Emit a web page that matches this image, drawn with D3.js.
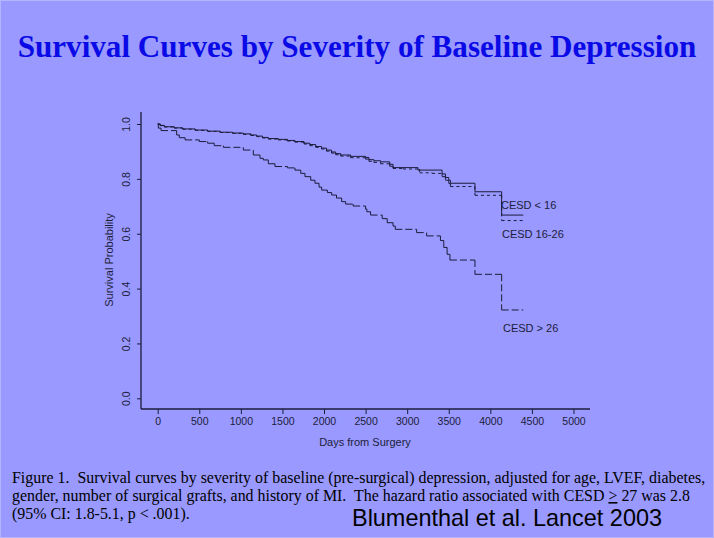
<!DOCTYPE html>
<html>
<head>
<meta charset="utf-8">
<script src="https://cdn.jsdelivr.net/npm/d3@7"></script>
<style>
html,body{margin:0;padding:0;background:#9999ff;}
svg{display:block;}
</style>
</head>
<body>
<svg id="c" width="714" height="538"></svg>
<script>
// ---- data ----
const xTicks = [0, 500, 1000, 1500, 2000, 2500, 3000, 3500, 4000, 4500, 5000];
const yTicks = [0.0, 0.2, 0.4, 0.6, 0.8, 1.0];
const seriesNames = ["CESD < 16", "CESD 16-26", "CESD > 26"];
const endDay = 4396;

const lowDays = [0,30,80,200,300,450,600,750,900,1030,1120,1190,1260,1330,1450,1560,1650,1760,1830,1900,1970,2030,2090,2140,2200,2320,2500,2540,2600,2680,2790,2830,3130,3420,3460,3500,3520,3815,4136];
const lowSurv = [1.0,0.995,0.990,0.986,0.982,0.978,0.974,0.970,0.967,0.964,0.960,0.956,0.951,0.947,0.944,0.940,0.936,0.930,0.925,0.918,0.912,0.905,0.898,0.892,0.887,0.882,0.878,0.870,0.866,0.862,0.853,0.841,0.832,0.818,0.805,0.795,0.784,0.753,0.668];

const midDays = [0,30,80,200,300,450,600,750,900,1030,1120,1190,1260,1330,1450,1560,1650,1760,1830,1900,1970,2030,2090,2140,2200,2320,2500,2540,2600,2680,2790,2830,2950,3150,3300,3420,3460,3500,3520,3815,4136];
const midSurv = [1.0,0.994,0.989,0.985,0.981,0.977,0.973,0.969,0.966,0.962,0.958,0.954,0.949,0.945,0.942,0.938,0.934,0.927,0.921,0.915,0.909,0.901,0.894,0.888,0.883,0.877,0.872,0.864,0.860,0.855,0.846,0.838,0.836,0.822,0.820,0.808,0.795,0.783,0.772,0.740,0.648];

const highDays = [0,8,40,228,260,330,500,600,680,790,1030,1150,1230,1270,1330,1410,1560,1650,1720,1771,1840,1891,1940,1972,2040,2092,2150,2212,2260,2350,2500,2515,2560,2700,2760,2830,2857,3114,3234,3400,3440,3480,3514,3815,4136];
const highSurv = [1.0,0.985,0.976,0.960,0.950,0.942,0.936,0.930,0.921,0.915,0.905,0.887,0.875,0.869,0.855,0.845,0.840,0.832,0.820,0.808,0.795,0.784,0.770,0.759,0.750,0.741,0.730,0.717,0.708,0.701,0.690,0.680,0.668,0.655,0.640,0.628,0.616,0.604,0.592,0.575,0.550,0.525,0.504,0.452,0.322];

// ---- drawing ----
const svg = d3.select("#c");
const ink = "#1c1c3c";

// slide border
svg.append("rect").attr("x",0.5).attr("y",0.5).attr("width",713).attr("height",537)
  .attr("fill","#9999ff").attr("stroke","#b4b4ff").attr("stroke-width",1);

// title
const title = svg.append("text").attr("x",357).attr("y",57).attr("text-anchor","middle")
  .attr("font-family","'Liberation Serif','Times New Roman',serif").attr("font-weight","bold")
  .attr("font-size",29).attr("fill","#0a0ae6")
  .text("Survival Curves by Severity of Baseline Depression");
{ const w = title.node().getComputedTextLength(); title.attr("font-size", 29*679/w); }

const x = d3.scaleLinear().domain([0,5000]).range([157.7,573.5]);
const y = d3.scaleLinear().domain([0,1]).range([398.3,124]);
const axX0 = 141, axY0 = 409;

const font = "'Liberation Sans',Arial,sans-serif";

// x axis
const gx = svg.append("g").attr("transform",`translate(0,${axY0})`)
  .call(d3.axisBottom(x).tickValues(xTicks).tickSize(5).tickPadding(4).tickFormat(d3.format("d")));
gx.select(".domain").remove();
gx.append("line").attr("x1",axX0).attr("x2",590).attr("stroke",ink).attr("stroke-width",1.3);
gx.selectAll(".tick line").attr("stroke",ink);
gx.selectAll(".tick text").attr("fill",ink).attr("font-family",font).attr("font-size",10.5);

// y axis
const gy = svg.append("g").attr("transform",`translate(${axX0},0)`)
  .call(d3.axisLeft(y).tickValues(yTicks).tickSize(4).tickPadding(0).tickFormat(d3.format(".1f")));
gy.select(".domain").remove();
gy.append("line").attr("y1",112).attr("y2",axY0).attr("stroke",ink).attr("stroke-width",1.3);
gy.selectAll(".tick line").attr("stroke",ink);
gy.selectAll(".tick text").attr("fill",ink).attr("font-family",font).attr("font-size",10.5)
  .attr("x",null).attr("dy",null).attr("text-anchor","middle")
  .attr("transform","translate(-11,0) rotate(-90)");

// axis titles
svg.append("text").attr("x",365).attr("y",446).attr("text-anchor","middle")
  .attr("font-family",font).attr("font-size",11).attr("fill",ink).text("Days from Surgery");
svg.append("text").attr("transform","translate(113,260) rotate(-90)").attr("text-anchor","middle")
  .attr("font-family",font).attr("font-size",11).attr("fill",ink).text("Survival Probability");

// curves: each step segment is drawn on its own, so the dash pattern restarts
// at every vertex (as in the original export): short steps look solid.
const seg = d3.line().x(d=>x(d[0])).y(d=>y(d[1]));
function stepSegments(days, surv){
  const pts = days.map((d,i)=>[d,surv[i]]);
  pts.push([endDay, surv[surv.length-1]]);
  const segs = [];
  for(let i=0;i<pts.length-1;i++){
    segs.push([[pts[i][0],pts[i][1]],[pts[i+1][0],pts[i][1]]]);
    if(pts[i+1][1]!==pts[i][1]) segs.push([[pts[i+1][0],pts[i][1]],[pts[i+1][0],pts[i+1][1]]]);
  }
  return segs;
}
const curves = [
  {segs:stepSegments(lowDays,lowSurv), dash:null},
  {segs:stepSegments(midDays,midSurv), dash:"3,3"},
  {segs:stepSegments(highDays,highSurv), dash:"7,3"}
];
curves.forEach(c=>{
  const g = svg.append("g").attr("fill","none").attr("stroke",ink).attr("stroke-width",1)
    .attr("stroke-dasharray",c.dash);
  g.selectAll("path").data(c.segs).join("path").attr("d",d=>seg(d));
});

// curve labels
const labelPos = [[501,209],[502,238],[503,332]];
seriesNames.forEach((n,i)=>{
  svg.append("text").attr("x",labelPos[i][0]).attr("y",labelPos[i][1])
    .attr("font-family",font).attr("font-size",11).attr("fill",ink).text(n);
});

// caption
const capFont = "'Liberation Serif','Times New Roman',serif";
const cap = svg.append("g").attr("font-family",capFont).attr("font-size",15).attr("fill","#000")
  .style("white-space","pre");
const l1 = cap.append("text").attr("x",12).attr("y",483)
  .text("Figure 1.\u00a0 Survival curves by severity of baseline (pre-surgical) depression, adjusted for age, LVEF, diabetes,");
const l2 = cap.append("text").attr("x",12).attr("y",501);
l2.append("tspan").text("gender, number of surgical grafts, and history of MI.\u00a0 The hazard ratio associated with CESD ");
l2.append("tspan").attr("text-decoration","underline").text(">");
l2.append("tspan").text(" 27 was 2.8");
cap.append("text").attr("x",12).attr("y",519).text("(95% CI: 1.8-5.1, p < .001).");
{ const w = l1.node().getComputedTextLength(); cap.attr("font-size", 15*694/w); }

svg.append("text").attr("x",352).attr("y",526).attr("font-family",font)
  .attr("font-size",24).attr("fill","#000").attr("textLength",310).attr("lengthAdjust","spacingAndGlyphs")
  .text("Blumenthal et al. Lancet 2003");
</script>
</body>
</html>
